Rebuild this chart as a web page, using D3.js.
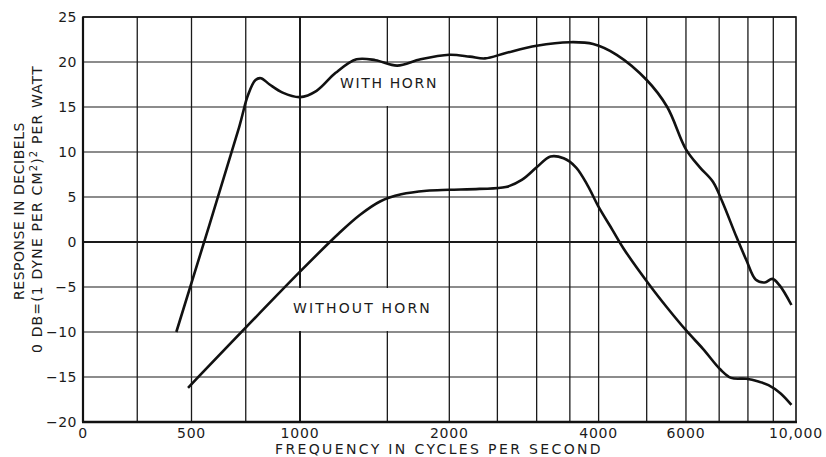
<!DOCTYPE html>
<html>
<head>
<meta charset="utf-8">
<script src="https://cdn.jsdelivr.net/npm/d3@7"></script>
<style>
  body { margin: 0; background: #fff; }
  svg { display: block; }
  text { font-family: "DejaVu Sans", sans-serif; fill: #1b1b1b; }
</style>
</head>
<body>
<div id="chart"></div>
<script>
// values
var withHornFreq = [430, 720, 760, 795, 820, 860, 920, 1000, 1080, 1180, 1300, 1420, 1570, 1750, 2000, 2200, 2360, 2600, 3000, 3500, 3900, 4350, 5000, 5500, 6000, 6400, 6800, 7100, 7580, 7940, 8300, 8650, 8960, 9260, 9790];
var withHornDb   = [-10, 12.8, 16.3, 18.0, 18.2, 17.5, 16.6, 16.1, 16.8, 18.8, 20.3, 20.2, 19.6, 20.3, 20.8, 20.6, 20.4, 21.0, 21.8, 22.2, 22.0, 20.8, 18.0, 15.0, 10.3, 8.3, 6.7, 4.5, 0.6, -2.0, -4.2, -4.5, -4.1, -4.8, -7.0];

var withoutHornFreq = [484, 1000, 1200, 1320, 1450, 1600, 1800, 2000, 2300, 2600, 2800, 3000, 3200, 3400, 3600, 3800, 4000, 4270, 4500, 5070, 5500, 6000, 6500, 7050, 7400, 7940, 8400, 8800, 9300, 9790];
var withoutHornDb   = [-16.2, -3.3, 1.0, 3.0, 4.5, 5.3, 5.7, 5.8, 5.9, 6.1, 6.9, 8.3, 9.5, 9.3, 8.3, 6.3, 3.9, 1.3, -0.8, -4.8, -7.3, -9.8, -11.9, -14.2, -15.1, -15.2, -15.5, -15.9, -16.8, -18.1];

var xTicks = [0, 500, 1000, 2000, 4000, 6000, 10000];
var xTickLabels = ["0", "500", "1000", "2000", "4000", "6000", "10,000"];
var xGrid = [250, 500, 750, 1000, 1500, 2000, 2500, 3000, 3500, 4000, 5000, 6000, 7000, 8000, 9000];
var yTicks = [-20, -15, -10, -5, 0, 5, 10, 15, 20, 25];

var W = 826, H = 457;
var pl = 83, pr = 796, pt = 17, pb = 422;

var svg = d3.select("#chart")
  .append("svg")
  .attr("width", W)
  .attr("height", H);

// linear up to 1000 c/s, logarithmic above
var xLin = d3.scaleLinear().domain([0, 1000]).range([pl, 300]);
var xLog = d3.scaleLog().domain([1000, 10000]).range([300, pr]);
var x = function(f) { return f <= 1000 ? xLin(f) : xLog(f); };
var y = d3.scaleLinear().domain([-20, 25]).range([pb, pt]);

function fit(t, w) {
  var n = t.node();
  var L = n.getComputedTextLength();
  var c = n.textContent.length;
  t.attr("letter-spacing", (w - L) / c);
}

// vertical grid
svg.append("g")
  .selectAll("line")
  .data(xGrid)
  .enter().append("line")
  .attr("x1", function(d) { return x(d); })
  .attr("x2", function(d) { return x(d); })
  .attr("y1", pt)
  .attr("y2", pb)
  .attr("stroke", "#1a1a1a")
  .attr("stroke-width", function(d) { return d == 1000 ? 2 : 1.3; });

// white boxes behind the curve labels
svg.append("rect")
  .attr("x", x(1130)).attr("y", y(20) + 1)
  .attr("width", x(1970) - x(1130)).attr("height", y(15) - y(20) - 2)
  .attr("fill", "#fff");
svg.append("rect")
  .attr("x", x(930)).attr("y", y(-5) + 1)
  .attr("width", x(1970) - x(930)).attr("height", y(-10) - y(-5) - 2)
  .attr("fill", "#fff");

// horizontal grid
svg.append("g")
  .selectAll("line")
  .data(yTicks)
  .enter().append("line")
  .attr("x1", pl)
  .attr("x2", pr)
  .attr("y1", function(d) { return y(d); })
  .attr("y2", function(d) { return y(d); })
  .attr("stroke", "#1a1a1a")
  .attr("stroke-width", function(d) { return d == 0 ? 2 : 1.2; });

// frame
svg.append("rect")
  .attr("x", pl).attr("y", pt)
  .attr("width", pr - pl).attr("height", pb - pt)
  .attr("fill", "none")
  .attr("stroke", "#111")
  .attr("stroke-width", 1.6);
svg.append("line")
  .attr("x1", pl - 1).attr("x2", pr + 1)
  .attr("y1", pb).attr("y2", pb)
  .attr("stroke", "#111").attr("stroke-width", 2.6);
svg.append("line")
  .attr("x1", pl).attr("x2", pl)
  .attr("y1", pt).attr("y2", pb)
  .attr("stroke", "#111").attr("stroke-width", 2.2);

// curves
var line = d3.line()
  .x(function(d) { return x(d[0]); })
  .y(function(d) { return y(d[1]); })
  .curve(d3.curveCatmullRom.alpha(0.5));

svg.append("path")
  .datum(d3.zip(withHornFreq, withHornDb))
  .attr("d", line)
  .attr("fill", "none")
  .attr("stroke", "#111")
  .attr("stroke-width", 2.6)
  .attr("stroke-linejoin", "round");

svg.append("path")
  .datum(d3.zip(withoutHornFreq, withoutHornDb))
  .attr("d", line)
  .attr("fill", "none")
  .attr("stroke", "#111")
  .attr("stroke-width", 2.6)
  .attr("stroke-linejoin", "round");

// curve labels
var lab1 = svg.append("text")
  .attr("x", 340).attr("y", y(17.1))
  .attr("font-size", "14px")
  .text("WITH HORN");
fit(lab1, 98);

var lab2 = svg.append("text")
  .attr("x", 293).attr("y", y(-7.9))
  .attr("font-size", "14px")
  .text("WITHOUT HORN");
fit(lab2, 139);

// y tick labels
svg.append("g")
  .attr("transform", "translate(" + pl + ",0)")
  .call(d3.axisLeft(y).tickValues(yTicks).tickSize(0).tickPadding(6)
    .tickFormat(function(d) { return d < 0 ? "\u2212" + Math.abs(d) : d; }))
  .call(function(g) { g.select(".domain").remove(); })
  .selectAll("text")
  .attr("font-family", "DejaVu Sans")
  .attr("font-size", "14px")
  .attr("letter-spacing", "0.5px")
  .attr("fill", "#1b1b1b");

// x tick labels
svg.append("g")
  .selectAll("text")
  .data(xTicks)
  .enter().append("text")
  .attr("x", function(d) { return x(d); })
  .attr("y", 438)
  .attr("text-anchor", "middle")
  .attr("font-size", "14px")
  .attr("letter-spacing", "0.8px")
  .text(function(d, i) { return xTickLabels[i]; });

// axis titles
var xt = svg.append("text")
  .attr("x", 275).attr("y", 454)
  .attr("font-size", "14px")
  .text("FREQUENCY IN CYCLES PER SECOND");
fit(xt, 328);

var yt1 = svg.append("text")
  .attr("transform", "translate(24,300) rotate(-90)")
  .attr("font-size", "14px")
  .text("RESPONSE IN DECIBELS");
fit(yt1, 178);

var yt2 = svg.append("text")
  .attr("transform", "translate(42,353) rotate(-90)")
  .attr("font-size", "14px");
yt2.append("tspan").text("0 DB=(1 DYNE PER CM");
yt2.append("tspan").attr("dy", -5).attr("font-size", "10px").text("2");
yt2.append("tspan").attr("dy", 5).text(")");
yt2.append("tspan").attr("dy", -5).attr("font-size", "10px").text("2");
yt2.append("tspan").attr("dy", 5).text(" PER WATT");
fit(yt2, 288);
</script>
</body>
</html>
